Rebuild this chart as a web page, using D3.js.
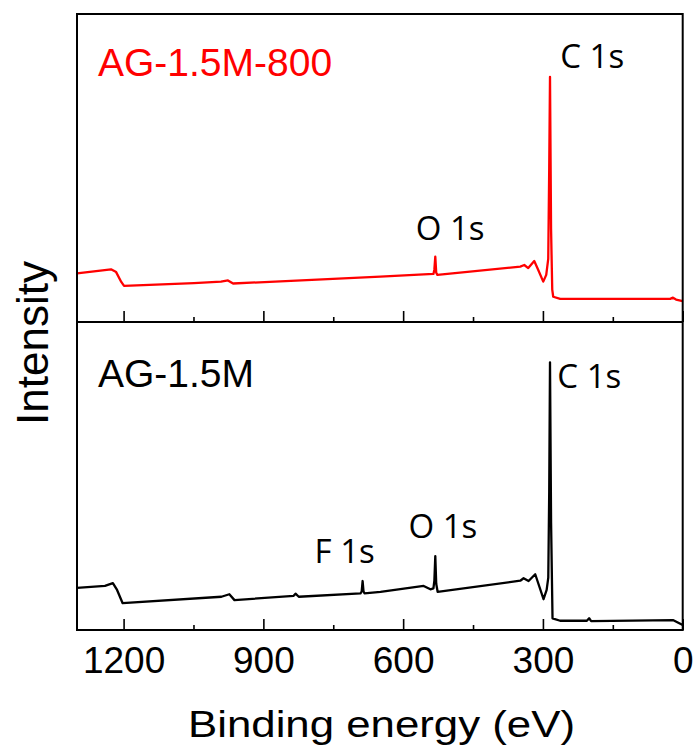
<!DOCTYPE html>
<html>
<head>
<meta charset="utf-8">
<script src="https://cdn.jsdelivr.net/npm/d3@7"></script>
<style>
    body { margin: 0; background: #fff; }
    svg { display: block; }
</style>
</head>
<body>
<svg id="chart" width="696" height="752"></svg>
<script>
// XPS survey spectra, binding energy (eV) vs intensity (arb. units, 0-100 per panel)
const energyTop = [1300, 1227, 1216, 1205, 1199, 1049, 991, 976, 965, 762, 649, 535, 533, 531, 529, 526.5,
    348.6, 340, 331.5, 318.6, 310, 299.3, 292.9, 288.6, 286.5, 284.8, 282.5, 280, 277.9, 262.9, 27, 20.8, 14.3, 0];
const intensityTop = [15.8, 17.1, 16.2, 13.0, 11.7, 12.6, 13.1, 13.5, 12.5, 13.9, 14.7, 15.6, 17, 21.2, 16, 15.3,
    18.0, 18.5, 17.5, 19.8, 16.9, 13.1, 15.3, 20.5, 50, 79.6, 30, 10.5, 8.2, 7.5, 7.5, 7.9, 7.3, 6.8];

const energyBottom = [1300, 1240, 1223, 1214, 1202, 990, 973, 962, 835, 831, 824, 691.5, 689, 687, 685, 683,
    648.6, 556, 541.5, 535, 533, 531, 529, 526, 348.6, 341.5, 330.8, 316.5, 298.7, 292, 288.5, 286.5, 284.8,
    282.5, 279.4, 263, 205.7, 200.8, 196.5, 20, 0];
const intensityBottom = [13.7, 14.3, 15.2, 13.0, 8.7, 10.8, 11.6, 9.7, 11.1, 11.8, 10.8, 11.9, 12.5, 15.9, 12.5, 11.9,
    12.4, 14.3, 13.2, 13.5, 16, 24.0, 15, 12.4, 16.0, 16.8, 15.9, 18.1, 10.0, 13, 17, 45, 86.9,
    35, 3.8, 3.0, 3.0, 3.8, 2.9, 3.2, 1.6];

const sampleTop = "AG-1.5M-800";
const sampleBottom = "AG-1.5M";

const peaksTop = [
    {label: "C 1s", energy: 263, level: 82.5},
    {label: "O 1s", energy: 573, level: 26.6}
];
const peaksBottom = [
    {label: "C 1s", energy: 269, level: 78.6},
    {label: "O 1s", energy: 588.6, level: 29.9},
    {label: "F 1s", energy: 790, level: 21.8}
];

const majorTicks = [1200, 900, 600, 300, 0];
const minorTicks = [1050, 750, 450, 150];

const svg = d3.select("#chart");
const plotLeft = 77, plotRight = 682.7, plotTop = 14, plotMid = 322, plotBottom = 630;

const x = d3.scaleLinear().domain([1300, 0]).range([plotLeft, plotRight]);

const panels = [
    {energy: energyTop, intensity: intensityTop, y0: plotTop, y1: plotMid, color: "#ff0000",
        sample: sampleTop, peaks: peaksTop},
    {energy: energyBottom, intensity: intensityBottom, y0: plotMid, y1: plotBottom, color: "#000000",
        sample: sampleBottom, peaks: peaksBottom}
];

const labelFont = "'Liberation Sans', Arial, sans-serif";
const peakFont = "'Open Sans', 'Noto Sans', sans-serif";

panels.forEach((p, i) => {
    const y = d3.scaleLinear().domain([0, 100]).range([p.y1, p.y0]);
    const pts = p.energy.map((e, k) => [e, p.intensity[k]]);

    const line = d3.line().x(d => x(d[0])).y(d => y(d[1]));
    svg.append("path")
        .datum(pts)
        .attr("d", line)
        .attr("fill", "none")
        .attr("stroke", p.color)
        .attr("stroke-width", 2.3)
        .attr("stroke-linejoin", "round");

    //ticks point inward from each panel's lower edge
    const major = svg.append("g")
        .attr("transform", "translate(0," + p.y1 + ")")
        .call(d3.axisBottom(x).tickValues(majorTicks).tickSize(-11).tickPadding(17)
            .tickFormat(i === 1 ? d3.format("d") : ""));
    major.select(".domain").remove();
    major.selectAll("line").attr("stroke", "#000").attr("stroke-width", 1.6);
    major.selectAll("text")
        .style("font", "37px " + labelFont)
        .attr("fill", "#000");

    const minor = svg.append("g")
        .attr("transform", "translate(0," + p.y1 + ")")
        .call(d3.axisBottom(x).tickValues(minorTicks).tickSize(-5).tickFormat(""));
    minor.select(".domain").remove();
    minor.selectAll("line").attr("stroke", "#000").attr("stroke-width", 1.6);

    svg.append("text")
        .attr("x", plotLeft + 21)
        .attr("y", p.y0 + (i === 0 ? 62 : 65))
        .style("font", "39px " + labelFont)
        .attr("fill", p.color)
        .text(p.sample);

    svg.append("g")
        .selectAll("text")
        .data(p.peaks)
        .join("text")
        .attr("x", d => x(d.energy))
        .attr("y", d => y(d.level))
        .style("font", "33px " + peakFont)
        .attr("fill", "#000")
        .text(d => d.label);
});

// frame and divider
svg.append("rect")
    .attr("x", plotLeft).attr("y", plotTop)
    .attr("width", plotRight - plotLeft).attr("height", plotBottom - plotTop)
    .attr("fill", "none").attr("stroke", "#000").attr("stroke-width", 2);
svg.append("line")
    .attr("x1", plotLeft).attr("x2", plotRight)
    .attr("y1", plotMid).attr("y2", plotMid)
    .attr("stroke", "#000").attr("stroke-width", 2);

svg.append("text")
    .attr("x", 381.5)
    .attr("y", 737)
    .attr("text-anchor", "middle")
    .attr("textLength", 387)
    .attr("lengthAdjust", "spacingAndGlyphs")
    .style("font", "37px " + labelFont)
    .text("Binding energy (eV)");

svg.append("text")
    .attr("transform", "translate(48,343) rotate(-90)")
    .attr("text-anchor", "middle")
    .style("font", "44px " + labelFont)
    .text("Intensity");
</script>
</body>
</html>
